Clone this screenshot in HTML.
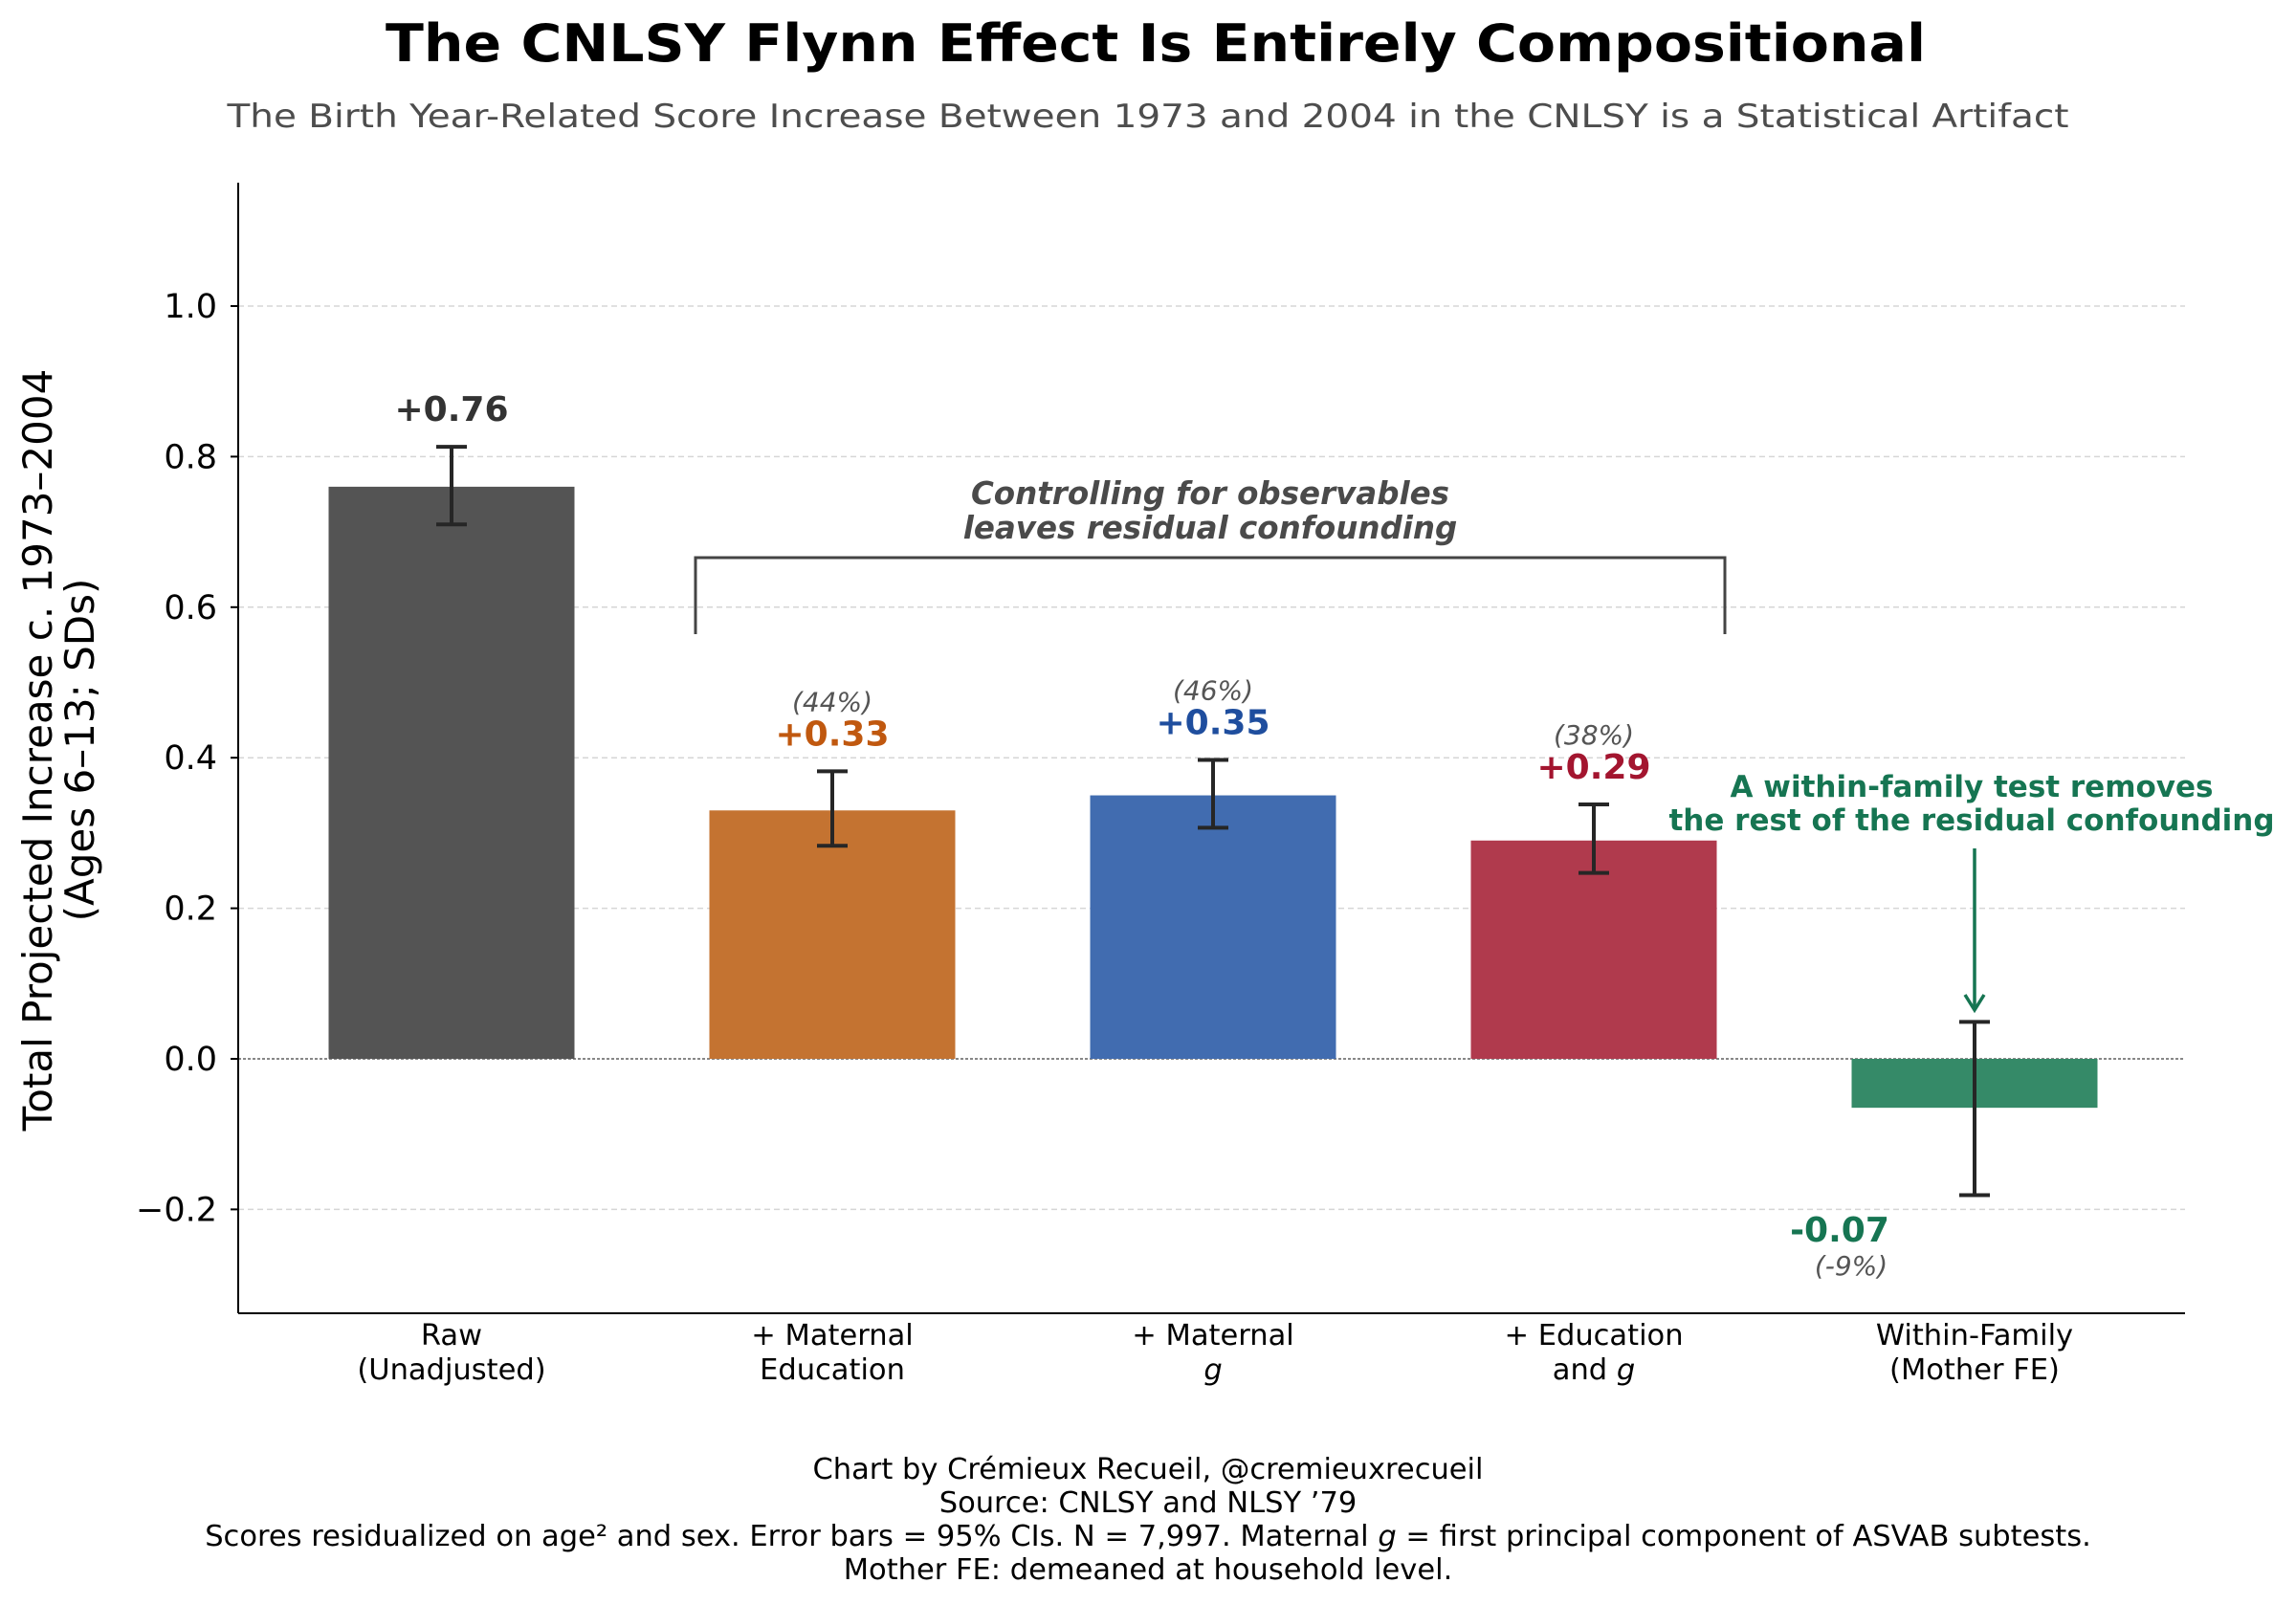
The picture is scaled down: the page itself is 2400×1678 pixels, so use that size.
<!DOCTYPE html>
<html><head><meta charset="utf-8"><style>
html,body{margin:0;padding:0;background:#fff;}
svg{display:block;font-family:"DejaVu Sans","Liberation Sans",sans-serif;}
</style></head><body>
<svg id="chart" width="2400" height="1678" viewBox="0 0 2400 1678" xmlns="http://www.w3.org/2000/svg">
<rect width="2400" height="1678" fill="#fff"/>
<text x="1208" y="64" text-anchor="middle" font-size="54" font-weight="bold" fill="#000" textLength="1610" lengthAdjust="spacingAndGlyphs">The CNLSY Flynn Effect Is Entirely Compositional</text>
<text x="1200" y="133" text-anchor="middle" font-size="34" fill="#4d4d4d" textLength="1925" lengthAdjust="spacingAndGlyphs">The Birth Year-Related Score Increase Between 1973 and 2004 in the CNLSY is a Statistical Artifact</text>
<g id="grid"></g>
<g id="bars"></g>
<g id="axes"></g>
<g>
<path d="M727,663 V583 H1803 V663" fill="none" stroke="#444" stroke-width="3"/>
<text x="1265" y="527" text-anchor="middle" font-size="32.5" font-weight="bold" font-style="italic" fill="#4a4a4a">Controlling for observables</text>
<text x="1265" y="563" text-anchor="middle" font-size="32.5" font-weight="bold" font-style="italic" fill="#4a4a4a">leaves residual confounding</text>
</g>
<g>
<text x="2061" y="833" text-anchor="middle" font-size="31" font-weight="bold" fill="#167552">A within-family test removes</text>
<text x="2061" y="868" text-anchor="middle" font-size="31" font-weight="bold" fill="#167552">the rest of the residual confounding</text>
<line x1="2064" y1="887" x2="2064" y2="1054" stroke="#167552" stroke-width="3.5"/>
<path d="M2054,1040 L2064,1056 L2074,1040" fill="none" stroke="#167552" stroke-width="3.5"/>
</g>
<text transform="translate(54,784) rotate(-90)" text-anchor="middle" font-size="42" fill="#000">Total Projected Increase c. 1973–2004</text>
<text transform="translate(98,784) rotate(-90)" text-anchor="middle" font-size="42" fill="#000">(Ages 6–13; SDs)</text>
<g font-size="30.5" fill="#000" text-anchor="middle">
<text x="1200" y="1546">Chart by Crémieux Recueil, @cremieuxrecueil</text>
<text x="1200" y="1581">Source: CNLSY and NLSY ’79</text>
<text x="1200" y="1616">Scores residualized on age² and sex. Error bars = 95% CIs. N = 7,997. Maternal <tspan font-style="italic">g</tspan> = first principal component of ASVAB subtests.</text>
<text x="1200" y="1651">Mother FE: demeaned at household level.</text>
</g>
</svg>
<script>
const categories1 = ["Raw", "+ Maternal", "+ Maternal", "+ Education", "Within-Family"];
const categories2 = ["(Unadjusted)", "Education", "g", "and g", "(Mother FE)"];
const values = [0.76, 0.33, 0.35, 0.29, -0.065];
const ciLow = [0.71, 0.283, 0.307, 0.247, -0.181];
const ciHigh = [0.813, 0.382, 0.397, 0.338, 0.049];
const valueLabels = ["+0.76", "+0.33", "+0.35", "+0.29", "-0.07"];
const pctLabels = ["", "(44%)", "(46%)", "(38%)", "(-9%)"];
const yTicks = [-0.2, 0.0, 0.2, 0.4, 0.6, 0.8, 1.0];
const yTickLabels = ["\u22120.2", "0.0", "0.2", "0.4", "0.6", "0.8", "1.0"];

const NS = "http://www.w3.org/2000/svg";
const L = 249, R = 2284, T = 191, B = 1373;
const yMin = -0.338, yMax = 1.1639;
function y(v){ return B - (v - yMin) / (yMax - yMin) * (B - T); }
function x(i){ return 472 + i * 398; }
const barW = 257;
const fills = ["#545454", "#c47331", "#416cb0", "#b03a4d", "#358a68"];
const labelColors = ["#333333", "#c0580f", "#1f4e9e", "#a3152f", "#167552"];
function mk(tag, attrs, parent){ const e = document.createElementNS(NS, tag); for (const k in attrs) e.setAttribute(k, attrs[k]); parent.appendChild(e); return e; }

const grid = document.getElementById('grid');
yTicks.forEach(t => {
  if (t === 0) return;
  const g = mk('line', {x1: L, x2: R, y1: y(t), y2: y(t), stroke: '#d6d6d6', 'stroke-width': 1.5, 'stroke-dasharray': '6,4'}, grid);
  
  
});
const zl = mk('line', {x1: L, x2: R, y1: y(0), y2: y(0), stroke: '#888', 'stroke-width': 2, 'stroke-dasharray': '3,2'}, grid);



const bars = document.getElementById('bars');
values.forEach((v, i) => {
  const cx = x(i);
  const top = Math.min(y(v), y(0)), h = Math.abs(y(v) - y(0));
  const r = mk('rect', {x: cx - barW/2, y: top, width: barW, height: h, fill: fills[i]}, bars);
  
  
  const eb = mk('g', {stroke: '#262626', 'stroke-width': 4}, bars);
  
  
  mk('line', {x1: cx, x2: cx, y1: y(ciLow[i]), y2: y(ciHigh[i])}, eb);
  mk('line', {x1: cx - 16, x2: cx + 16, y1: y(ciLow[i]), y2: y(ciLow[i])}, eb);
  mk('line', {x1: cx - 16, x2: cx + 16, y1: y(ciHigh[i]), y2: y(ciHigh[i])}, eb);
  let vy, py, vx = cx;
  if (v >= 0) { vy = y(ciHigh[i]) - 27; py = vy - 36; }
  else { vx = cx - 141; vy = y(ciLow[i]) + 43; py = vy + 36; }
  if (v < 0) { vy = 1298; py = 1333; }
  const vl = mk('text', {x: vx, y: vy, 'text-anchor': 'middle', 'font-size': 36, 'font-weight': 'bold', fill: labelColors[i]}, bars);
  vl.textContent = valueLabels[i];
  
  
  if (pctLabels[i]) {
    const pl = mk('text', {x: v < 0 ? vx + 12 : cx, y: py, 'text-anchor': 'middle', 'font-size': 28, 'font-style': 'italic', fill: '#555'}, bars);
    pl.textContent = pctLabels[i];
    
    
  }
  const xl = mk('text', {x: cx, y: 1406, 'text-anchor': 'middle', 'font-size': 30.5, fill: '#000'}, bars);
  xl.textContent = categories1[i];
  
  
  const xl2 = mk('text', {x: cx, y: 1442, 'text-anchor': 'middle', 'font-size': 30.5, fill: '#000'}, bars);
  if (categories2[i] === 'g') { xl2.setAttribute('font-style', 'italic'); }
  if (categories2[i] === 'and g') { xl2.innerHTML = 'and <tspan font-style="italic">g</tspan>'; } else { xl2.textContent = categories2[i]; }
  
  
});

const axes = document.getElementById('axes');
mk('line', {x1: L, x2: L, y1: T, y2: B, stroke: '#000', 'stroke-width': 2}, axes);
mk('line', {x1: L, x2: R, y1: B, y2: B, stroke: '#000', 'stroke-width': 2}, axes);
yTicks.forEach((t, i) => {
  mk('line', {x1: L - 8, x2: L, y1: y(t), y2: y(t), stroke: '#000', 'stroke-width': 2}, axes);
  const tl = mk('text', {x: L - 22, y: y(t) + 12, 'text-anchor': 'end', 'font-size': 35, fill: '#000'}, axes);
  tl.textContent = yTickLabels[i];
  
  
});
</script>
</body></html>
